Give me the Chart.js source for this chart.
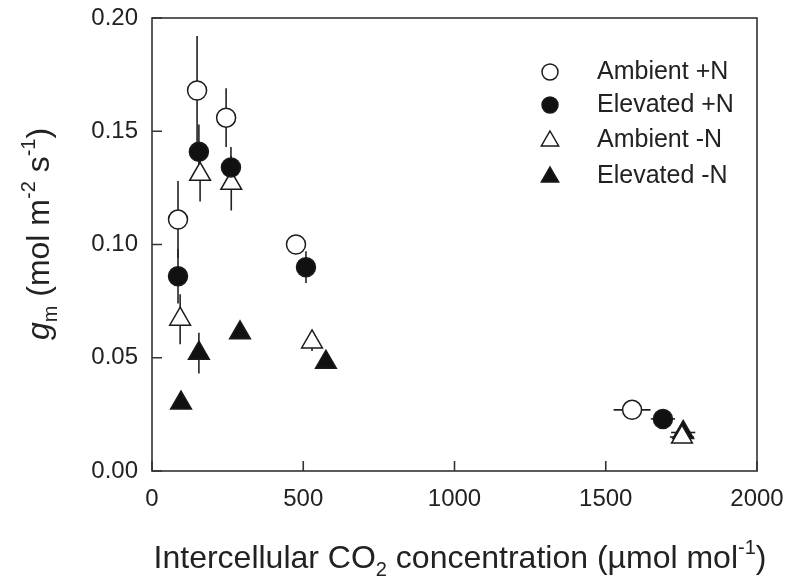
<!DOCTYPE html>
<html>
<head>
<meta charset="utf-8">
<script src="https://cdn.jsdelivr.net/npm/chart.js@4.4.1/dist/chart.umd.min.js"></script>
<style>
  body { margin: 0; background: #fff; }
  canvas { display: block; }
</style>
</head>
<body>
<canvas id="gmChart" width="789" height="585"></canvas>
<script>
// Series: Ci (µmol mol-1), gm (mol m-2 s-1) and their error bars
const seriesNames = ['Ambient +N', 'Elevated +N', 'Ambient -N', 'Elevated -N'];

const ambientPlusN_ci    = [86, 149, 245, 476, 1587];
const ambientPlusN_gm    = [0.111, 0.168, 0.156, 0.100, 0.027];
const ambientPlusN_gmErr = [0.017, 0.024, 0.013, 0.002, 0.002];
const ambientPlusN_ciErr = [0, 0, 0, 0, 61];

const elevatedPlusN_ci    = [86, 155, 261, 509, 1689];
const elevatedPlusN_gm    = [0.086, 0.141, 0.134, 0.090, 0.023];
const elevatedPlusN_gmErr = [0.012, 0.012, 0.009, 0.007, 0.002];
const elevatedPlusN_ciErr = [0, 0, 0, 0, 40];

const ambientMinusN_ci    = [93, 159, 262, 529, 1752];
const ambientMinusN_gm    = [0.067, 0.131, 0.127, 0.057, 0.015];
const ambientMinusN_gmErr = [0.011, 0.012, 0.012, 0.004, 0.002];
const ambientMinusN_ciErr = [0, 0, 0, 0, 40];

const elevatedMinusN_ci    = [96, 155, 291, 575, 1756];
const elevatedMinusN_gm    = [0.030, 0.052, 0.061, 0.048, 0.017];
const elevatedMinusN_gmErr = [0.002, 0.009, 0.002, 0.002, 0.002];
const elevatedMinusN_ciErr = [0, 0, 0, 0, 40];

const xTickValues = [0, 500, 1000, 1500, 2000];
const yTickValues = [0.00, 0.05, 0.10, 0.15, 0.20];

const FONT = '"Liberation Sans", Arial, sans-serif';
const INK = '#222';

function toPoints(xs, ys, yErr, xErr) {
    return xs.map((x, i) => ({ x: x, y: ys[i], yErr: yErr[i], xErr: xErr[i] }));
}

function makeSet(label, xs, ys, yErr, xErr, style, filled) {
    return {
        label: label,
        data: toPoints(xs, ys, yErr, xErr),
        pointStyle: style,
        pointRadius: style === 'circle' ? 9.5 : 12,
        pointHoverRadius: style === 'circle' ? 9.5 : 12,
        backgroundColor: filled ? '#111' : '#fff',
        borderColor: '#1a1a1a',
        borderWidth: 1.5,
        showLine: false
    };
}

// text with sub/superscript pieces, centred on (cx, cy)
function drawRich(ctx, parts, cx, cy, size) {
    const small = Math.round(size * 0.64);
    const fontFor = p => (p.italic ? 'italic ' : '') + (p.mode ? small : size) + 'px ' + FONT;
    let total = 0;
    parts.forEach(p => { ctx.font = fontFor(p); total += ctx.measureText(p.t).width; });
    let x = cx - total / 2;
    ctx.textBaseline = 'alphabetic';
    ctx.textAlign = 'left';
    const base = cy + size * 0.36;
    parts.forEach(p => {
        ctx.font = fontFor(p);
        let y = base;
        if (p.mode === 'sub') y = base + size * 0.26;
        if (p.mode === 'sup') y = base - size * 0.42;
        ctx.fillText(p.t, x, y);
        x += ctx.measureText(p.t).width;
    });
}

function drawMarker(ctx, style, filled, x, y, r) {
    ctx.beginPath();
    if (style === 'circle') {
        ctx.arc(x, y, r, 0, Math.PI * 2);
    } else {
        ctx.moveTo(x, y - r);
        ctx.lineTo(x + r * 0.866, y + r / 2);
        ctx.lineTo(x - r * 0.866, y + r / 2);
        ctx.closePath();
    }
    ctx.fillStyle = filled ? '#111' : '#fff';
    ctx.fill();
    ctx.lineWidth = 1.5;
    ctx.strokeStyle = '#1a1a1a';
    ctx.stroke();
}

// keep tick labels from pushing the plot area around
function noScalePadding(s) {
    s.paddingTop = 0;
    s.paddingBottom = 0;
    s.paddingLeft = 0;
    s.paddingRight = 0;
}

const decorations = {
    id: 'decorations',
    beforeDatasetsDraw(chart) {
        const { ctx, scales: { x, y } } = chart;
        ctx.save();
        ctx.strokeStyle = INK;
        ctx.lineWidth = 1.6;
        chart.data.datasets.forEach(ds => {
            ds.data.forEach(p => {
                const px = x.getPixelForValue(p.x);
                const py = y.getPixelForValue(p.y);
                if (p.yErr) {
                    ctx.beginPath();
                    ctx.moveTo(px, y.getPixelForValue(p.y - p.yErr));
                    ctx.lineTo(px, y.getPixelForValue(p.y + p.yErr));
                    ctx.stroke();
                }
                if (p.xErr) {
                    ctx.beginPath();
                    ctx.moveTo(x.getPixelForValue(p.x - p.xErr), py);
                    ctx.lineTo(x.getPixelForValue(p.x + p.xErr), py);
                    ctx.stroke();
                }
            });
        });
        ctx.restore();
    },
    afterDraw(chart) {
        const { ctx, chartArea: a, scales: { x, y } } = chart;
        ctx.save();
        // frame
        ctx.strokeStyle = '#333';
        ctx.lineWidth = 1.6;
        ctx.strokeRect(a.left, a.top, a.right - a.left, a.bottom - a.top);
        // inward ticks
        ctx.beginPath();
        xTickValues.forEach(v => {
            const px = x.getPixelForValue(v);
            ctx.moveTo(px, a.bottom);
            ctx.lineTo(px, a.bottom - 10);
        });
        yTickValues.forEach(v => {
            const py = y.getPixelForValue(v);
            ctx.moveTo(a.left, py);
            ctx.lineTo(a.left + 10, py);
        });
        ctx.stroke();

        // legend in the upper right of the plot
        const styles = [['circle', false], ['circle', true], ['triangle', false], ['triangle', true]];
        const rowsY = [72, 105, 140, 176];
        seriesNames.forEach((name, i) => {
            const [st, filled] = styles[i];
            drawMarker(ctx, st, filled, 550, rowsY[i] + (st === 'triangle' ? 1 : 0), st === 'circle' ? 8 : 10);
            ctx.fillStyle = INK;
            ctx.font = '25px ' + FONT;
            ctx.textAlign = 'left';
            ctx.textBaseline = 'middle';
            ctx.fillText(name, 597, rowsY[i]);
        });

        // axis titles
        ctx.fillStyle = INK;
        drawRich(ctx, [
            { t: 'Intercellular CO' }, { t: '2', mode: 'sub' },
            { t: ' concentration (\u00b5mol mol' }, { t: '-1', mode: 'sup' }, { t: ')' }
        ], 460, 556, 32);

        ctx.translate(37, 234);
        ctx.rotate(-Math.PI / 2);
        drawRich(ctx, [
            { t: 'g', italic: true }, { t: 'm', mode: 'sub' },
            { t: ' (mol m' }, { t: '-2', mode: 'sup' }, { t: ' s' }, { t: '-1', mode: 'sup' }, { t: ')' }
        ], 0, 0, 32);
        ctx.restore();
    }
};

const ctx = document.getElementById('gmChart').getContext('2d');
const gmChart = new Chart(ctx, {
    type: 'scatter',
    data: {
        datasets: [
            makeSet(seriesNames[0], ambientPlusN_ci, ambientPlusN_gm, ambientPlusN_gmErr, ambientPlusN_ciErr, 'circle', false),
            makeSet(seriesNames[1], elevatedPlusN_ci, elevatedPlusN_gm, elevatedPlusN_gmErr, elevatedPlusN_ciErr, 'circle', true),
            makeSet(seriesNames[2], ambientMinusN_ci, ambientMinusN_gm, ambientMinusN_gmErr, ambientMinusN_ciErr, 'triangle', false),
            makeSet(seriesNames[3], elevatedMinusN_ci, elevatedMinusN_gm, elevatedMinusN_gmErr, elevatedMinusN_ciErr, 'triangle', true)
        ]
    },
    options: {
        responsive: false,
        animation: false,
        devicePixelRatio: 1,
        layout: { padding: { top: 18, right: 32, left: 0, bottom: 0 } },
        plugins: {
            legend: { display: false },
            tooltip: { enabled: false }
        },
        scales: {
            x: {
                type: 'linear',
                min: 0,
                max: 2000,
                afterBuildTicks: s => { s.ticks = xTickValues.map(v => ({ value: v })); },
                afterFit: s => { s.height = 114; noScalePadding(s); },
                grid: { display: false, drawTicks: false },
                border: { display: false },
                ticks: {
                    padding: 14,
                    color: INK,
                    font: { family: FONT, size: 24 },
                    callback: v => String(v)
                }
            },
            y: {
                min: 0,
                max: 0.2,
                afterBuildTicks: s => { s.ticks = yTickValues.map(v => ({ value: v })); },
                afterFit: s => { s.width = 152; noScalePadding(s); },
                grid: { display: false, drawTicks: false },
                border: { display: false },
                ticks: {
                    padding: 14,
                    color: INK,
                    font: { family: FONT, size: 24 },
                    callback: v => v.toFixed(2)
                }
            }
        }
    },
    plugins: [decorations]
});
</script>
</body>
</html>
